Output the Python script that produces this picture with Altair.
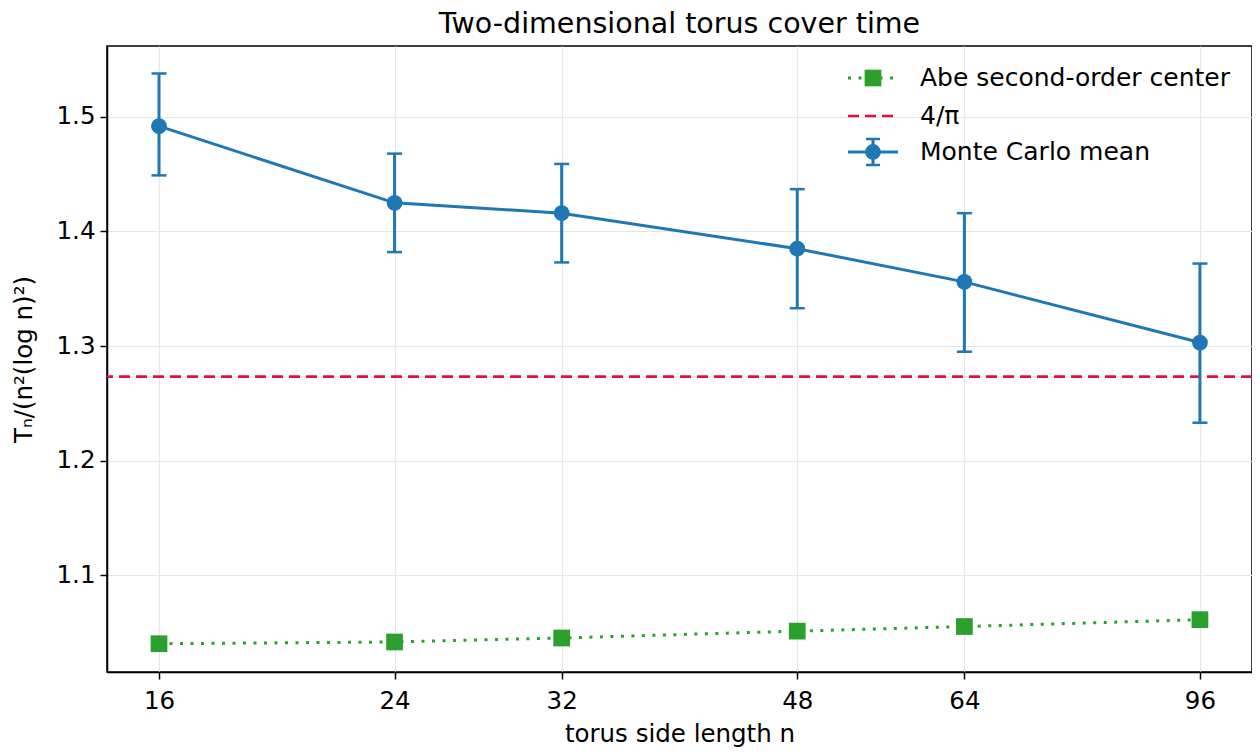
import altair as alt
import pandas as pd

n_vals = [16, 24, 32, 48, 64, 96]
mc_mean = [1.492, 1.425, 1.416, 1.385, 1.356, 1.303]
mc_lo = [1.449, 1.382, 1.373, 1.333, 1.295, 1.233]
mc_hi = [1.538, 1.468, 1.459, 1.437, 1.416, 1.372]
abe_center = [1.040, 1.0415, 1.045, 1.051, 1.055, 1.061]
four_over_pi = 4 / 3.141592653589793
legend_labels = ["Abe second-order center", "4/π", "Monte Carlo mean"]

BLUE = "#1f77b4"
GREEN = "#2ca02c"
RED = "#dc143c"
FONT = "DejaVu Sans"
FS = 24.5

df = pd.DataFrame({"n": n_vals, "mean": mc_mean, "lo": mc_lo, "hi": mc_hi, "abe": abe_center})
ref = pd.DataFrame({"y": [four_over_pi]})

xscale = alt.Scale(type="log", domain=[14.63, 105.0], nice=False)
yscale = alt.Scale(domain=[1.0153, 1.562], nice=False, zero=False)

xenc = alt.X("n:Q", scale=xscale, axis=alt.Axis(
    values=n_vals, format="d", title="torus side length n", grid=True,
    labelPadding=10, titlePadding=10))
yaxis = alt.Axis(values=[1.1, 1.2, 1.3, 1.4, 1.5], format=".1f",
                 title="Tₙ/(n²(log n)²)", grid=True, titlePadding=20)

base = alt.Chart(df)

abe_line = base.mark_line(color=GREEN, strokeWidth=3, strokeDash=[3, 7.5]).encode(
    x=xenc, y=alt.Y("abe:Q", scale=yscale, axis=yaxis))
abe_pts = base.mark_square(color=GREEN, size=280, opacity=1).encode(
    x="n:Q", y="abe:Q")

ref_rule = alt.Chart(ref).mark_rule(color=RED, strokeWidth=2.6, strokeDash=[11, 6]).encode(
    y=alt.Y("y:Q", scale=yscale))

err = base.mark_rule(color=BLUE, strokeWidth=3).encode(
    x="n:Q", y="lo:Q", y2="hi:Q")
cap_lo = base.mark_tick(color=BLUE, orient="horizontal", size=15, thickness=2.5, opacity=1).encode(
    x="n:Q", y="lo:Q")
cap_hi = base.mark_tick(color=BLUE, orient="horizontal", size=15, thickness=2.5, opacity=1).encode(
    x="n:Q", y="hi:Q")
mc_line = base.mark_line(color=BLUE, strokeWidth=3).encode(x="n:Q", y="mean:Q")
mc_pts = base.mark_circle(color=BLUE, size=250, opacity=1).encode(x="n:Q", y="mean:Q")

# manual legend (pixel positions in plot coordinates)
ly = [32, 70, 106]
legend_parts = []
for i, lab in enumerate(legend_labels):
    d = pd.DataFrame({"label": [lab]})
    legend_parts.append(alt.Chart(d).mark_text(align="left", baseline="middle", fontSize=25,
                                                font=FONT, color="black").encode(
        x=alt.value(813), y=alt.value(ly[i]), text="label:N"))
one = pd.DataFrame({"k": [0]})
lg_abe_line = alt.Chart(one).mark_rule(color=GREEN, strokeWidth=3, strokeDash=[3, 7.5]).encode(
    x=alt.value(741), x2=alt.value(791), y=alt.value(ly[0]))
lg_abe_pt = alt.Chart(one).mark_square(color=GREEN, size=280, opacity=1).encode(
    x=alt.value(766), y=alt.value(ly[0]))
lg_ref = alt.Chart(one).mark_rule(color=RED, strokeWidth=2.6, strokeDash=[11, 6]).encode(
    x=alt.value(741), x2=alt.value(791), y=alt.value(ly[1]))
lg_mc_line = alt.Chart(one).mark_rule(color=BLUE, strokeWidth=3).encode(
    x=alt.value(741), x2=alt.value(791), y=alt.value(ly[2]))
lg_mc_bar = alt.Chart(one).mark_rule(color=BLUE, strokeWidth=3).encode(
    x=alt.value(766), y=alt.value(ly[2] - 13), y2=alt.value(ly[2] + 13))
lg_mc_cap1 = alt.Chart(one).mark_rule(color=BLUE, strokeWidth=2.5).encode(
    x=alt.value(759), x2=alt.value(773), y=alt.value(ly[2] - 13))
lg_mc_cap2 = alt.Chart(one).mark_rule(color=BLUE, strokeWidth=2.5).encode(
    x=alt.value(759), x2=alt.value(773), y=alt.value(ly[2] + 13))
lg_mc_pt = alt.Chart(one).mark_circle(color=BLUE, size=250, opacity=1).encode(
    x=alt.value(766), y=alt.value(ly[2]))

chart = alt.layer(
    abe_line, abe_pts, ref_rule, err, cap_lo, cap_hi, mc_line, mc_pts,
    lg_abe_line, lg_abe_pt, lg_ref, lg_mc_line, lg_mc_bar, lg_mc_cap1, lg_mc_cap2, lg_mc_pt,
    *legend_parts
).properties(
    width=1145, height=626,
    title=alt.TitleParams("Two-dimensional torus cover time", fontSize=28.5, font=FONT,
                          fontWeight="normal", color="black", anchor="middle", offset=8),
    autosize=alt.AutoSizeParams(type="none"),
    padding={"left": 99, "top": 38, "right": 0, "bottom": 96},
).configure_view(
    stroke="black", strokeWidth=1.5
).configure_axis(
    labelFont=FONT, titleFont=FONT, labelFontSize=FS, titleFontSize=FS,
    labelColor="black", titleColor="black", titleFontWeight="normal",
    domainColor="black", domainWidth=1.5, tickColor="black", tickWidth=1.5, tickSize=7,
    gridColor="#e6e6e6", gridWidth=1.2, labelPadding=5
)

chart.save("out.html", embed_options={"renderer": "svg", "actions": False})
